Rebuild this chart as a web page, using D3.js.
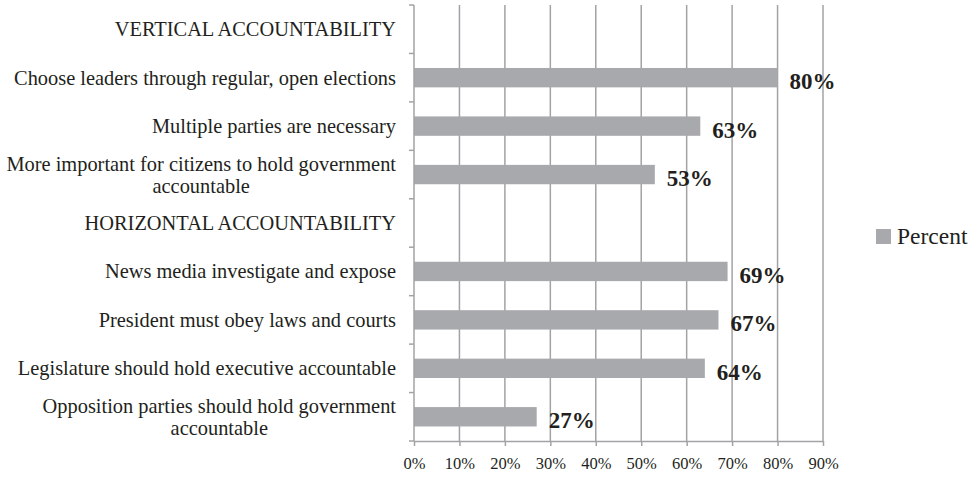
<!DOCTYPE html>
<html>
<head>
<meta charset="utf-8">
<script src="https://cdn.jsdelivr.net/npm/d3@7"></script>
<style>
  html, body { margin: 0; padding: 0; background: #fff; }
  svg { display: block; }
  text { font-family: "Liberation Serif", "Times New Roman", serif; fill: #231f20; }
</style>
</head>
<body>
<svg id="chart" width="975" height="477"></svg>
<script>
// Survey items, top to bottom; section headings carry no value
const categories = [
  ["VERTICAL ACCOUNTABILITY"],
  ["Choose leaders through regular, open elections"],
  ["Multiple parties are necessary"],
  ["More important for citizens to hold government", "accountable"],
  ["HORIZONTAL ACCOUNTABILITY"],
  ["News media investigate and expose"],
  ["President must obey laws and courts"],
  ["Legislature should hold executive accountable"],
  ["Opposition parties should hold government", "accountable"]
];
const percentValues = [null, 80, 63, 53, null, 69, 67, 64, 27];
const xTicks = [0, 10, 20, 30, 40, 50, 60, 70, 80, 90];
const seriesName = "Percent";

const svg = d3.select("#chart");
const margin = { left: 414, right: 975 - 823, top: 5, bottom: 477 - 441 };

const x = d3.scaleLinear().domain([0, 90]).range([margin.left, 975 - margin.right]);
const y = d3.scaleBand()
  .domain(d3.range(categories.length))
  .range([margin.top, 477 - margin.bottom])
  .padding(0);

const gridColor = "#a3a3a7";
const barColor = "#a8a9ac";

// Vertical gridlines
svg.append("g")
  .selectAll("line")
  .data(xTicks.slice(1))
  .join("line")
  .attr("x1", d => x(d)).attr("x2", d => x(d))
  .attr("y1", y.range()[0]).attr("y2", y.range()[1])
  .attr("stroke", gridColor)
  .attr("stroke-width", 1.5);

// Bars
const barH = y.bandwidth() * 0.4;
const rows = percentValues.map((v, i) => ({ v, i })).filter(d => d.v !== null);
svg.append("g")
  .selectAll("rect")
  .data(rows)
  .join("rect")
  .attr("x", x(0))
  .attr("y", d => y(d.i) + (y.bandwidth() - barH) / 2)
  .attr("width", d => x(d.v) - x(0))
  .attr("height", barH)
  .attr("fill", barColor);

// Value labels
svg.append("g")
  .selectAll("text")
  .data(rows)
  .join("text")
  .attr("x", d => x(d.v) + 12)
  .attr("y", d => y(d.i) + y.bandwidth() / 2 + 11.5)
  .attr("font-size", 23)
  .attr("font-weight", "bold")
  .text(d => d.v + "%");

// Bottom axis
const xAxis = d3.axisBottom(x)
  .tickValues(xTicks)
  .tickFormat(d => d + "%")
  .tickSize(5)
  .tickSizeOuter(0);
const gx = svg.append("g")
  .attr("transform", `translate(0,${y.range()[1]})`)
  .call(xAxis);
gx.select(".domain").attr("stroke", gridColor).attr("stroke-width", 1.5);
gx.selectAll(".tick line").attr("stroke", gridColor).attr("stroke-width", 1.5);
gx.selectAll(".tick text")
  .attr("font-family", "Liberation Serif, Times New Roman, serif")
  .attr("font-size", 16.5)
  .attr("fill", "#231f20")
  .attr("y", 11)
  .attr("dy", "1.05em");

// Left category axis (ticks at band edges)
const edges = d3.range(categories.length + 1).map(i => margin.top + i * y.step());
svg.append("line")
  .attr("x1", x(0)).attr("x2", x(0))
  .attr("y1", y.range()[0]).attr("y2", y.range()[1])
  .attr("stroke", gridColor).attr("stroke-width", 1.5);
svg.append("g")
  .selectAll("line")
  .data(edges)
  .join("line")
  .attr("x1", x(0) - 5).attr("x2", x(0))
  .attr("y1", d => d).attr("y2", d => d)
  .attr("stroke", gridColor).attr("stroke-width", 1.5);

// Category labels: block right-aligned, lines centred within the block
const lineH = 22;
const labelRight = 396;
const fs = 20.4;
const measure = svg.append("text").attr("font-size", fs).attr("opacity", 0);
categories.forEach((lines, i) => {
  const widths = lines.map(t => { measure.text(t); return measure.node().getComputedTextLength(); });
  const blockW = d3.max(widths);
  const cx = labelRight - blockW / 2;
  const cy = y(i) + y.bandwidth() / 2;
  const top = cy - (lines.length - 1) * lineH / 2;
  const t = svg.append("text")
    .attr("font-size", fs)
    .attr("text-anchor", "middle");
  lines.forEach((line, k) => {
    t.append("tspan")
      .attr("x", cx)
      .attr("y", top + k * lineH + 7)
      .text(line);
  });
});
measure.remove();

// Legend
const legend = svg.append("g").attr("transform", "translate(876,229)");
legend.append("rect").attr("width", 15).attr("height", 15).attr("fill", barColor);
legend.append("text").attr("x", 21).attr("y", 15).attr("font-size", 23.5).text(seriesName);
</script>
</body>
</html>
